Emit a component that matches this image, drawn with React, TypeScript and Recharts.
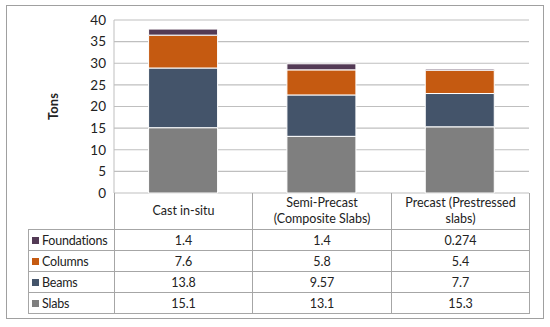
import React from 'react'
import { BarChart, Bar, XAxis, YAxis, CartesianGrid } from 'recharts'

const categories = ['Cast in-situ', 'Semi-Precast (Composite Slabs)', 'Precast (Prestressed slabs)']
const slabs = [15.1, 13.1, 15.3]
const beams = [13.8, 9.57, 7.7]
const columns = [7.6, 5.8, 5.4]
const foundations = [1.4, 1.4, 0.274]
const yTicks = [0, 5, 10, 15, 20, 25, 30, 35, 40]

// table rows top-down, as in the original sheet
const series = [
  { key: 'foundations', name: 'Foundations', values: foundations, color: '#533a55' },
  { key: 'columns', name: 'Columns', values: columns, color: '#c55a11' },
  { key: 'beams', name: 'Beams', values: beams, color: '#44546a' },
  { key: 'slabs', name: 'Slabs', values: slabs, color: '#7f7f7f' },
]

const data = categories.map((c, i) => ({
  name: c,
  slabs: slabs[i],
  beams: beams[i],
  columns: columns[i],
  foundations: foundations[i],
}))

const FONT = 'Lato, "Open Sans", sans-serif'
const LINE = '#a6a6a6'

const cell: React.CSSProperties = {
  border: `1px solid ${LINE}`,
  textAlign: 'center',
  padding: 0,
  height: 20,
  fontSize: 12.5,
  color: '#222',
}

export default function App() {
  return (
    <div style={{ position: 'absolute', left: 6, top: 5, width: 538, height: 314, boxSizing: 'border-box', border: '1px solid #a0a0a0', background: '#fff', fontFamily: FONT }}>
      <div style={{ position: 'absolute', left: -7, top: -6 }}>
        <BarChart width={550} height={327} data={data} barCategoryGap="25%" margin={{ top: 20, right: 21, bottom: 134, left: 74 }}>
          <CartesianGrid vertical={false} stroke="#bfbfbf" strokeWidth={1.2} />
          <XAxis dataKey="name" hide />
          <YAxis
            width={40}
            domain={[0, 40]}
            ticks={yTicks}
            tickLine={false}
            axisLine={{ stroke: '#bfbfbf' }}
            tick={{ fontSize: 13.5, fill: '#222', fontFamily: FONT }}
            interval={0}
            label={{
              content: (p: any) => {
                const vb = p.viewBox
                const x = vb.x - 21
                const y = vb.y + vb.height / 2
                return (
                  <text x={x} y={y} transform={`rotate(-90 ${x} ${y})`} textAnchor="middle" dominantBaseline="central" fontWeight="bold" fontSize={13} fill="#222" fontFamily={FONT}>
                    Tons
                  </text>
                )
              },
            }}
          />
          {[...series].reverse().map((s) => (
            <Bar key={s.key} dataKey={s.key} name={s.name} stackId="a" fill={s.color} stroke="#fff" strokeWidth={1} isAnimationActive={false} />
          ))}
        </BarChart>
      </div>
      <table style={{ position: 'absolute', left: 21, top: 187, borderCollapse: 'collapse', tableLayout: 'fixed', width: 502, fontFamily: FONT }}>
        <colgroup>
          <col style={{ width: 86 }} />
          <col style={{ width: 138 }} />
          <col style={{ width: 139 }} />
          <col style={{ width: 138 }} />
        </colgroup>
        <tbody>
          <tr>
            <td style={{ ...cell, border: 'none', borderRight: `1px solid ${LINE}`, borderBottom: `1px solid ${LINE}`, height: 36 }} />
            {categories.map((c) => (
              <td key={c} style={{ ...cell, height: 36, lineHeight: '16px', padding: '0 4px', borderTop: 'none' }}>
                {c}
              </td>
            ))}
          </tr>
          {series.map((s) => (
            <tr key={s.key}>
              <td style={{ ...cell, textAlign: 'left', paddingLeft: 3, whiteSpace: 'nowrap', letterSpacing: -0.2 }}>
                <span style={{ display: 'inline-block', width: 7, height: 7, background: s.color, marginRight: 3, verticalAlign: 'middle', position: 'relative', top: -1 }} />
                {s.name}
              </td>
              {s.values.map((v, i) => (
                <td key={i} style={cell}>
                  {v}
                </td>
              ))}
            </tr>
          ))}
        </tbody>
      </table>
    </div>
  )
}
